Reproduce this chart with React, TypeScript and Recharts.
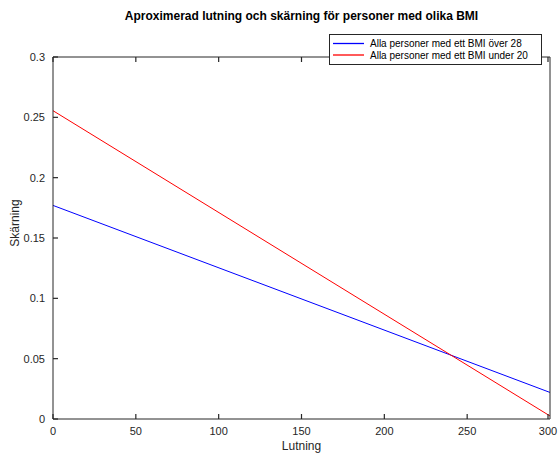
import React from "react";
import {
  LineChart,
  Line,
  XAxis,
  YAxis,
  Legend,
} from "recharts";

const lutning = [0, 300];
const bmiOver28 = [0.177, 0.022];
const bmiUnder20 = [0.2555, 0.0025];

const xTicks = [0, 50, 100, 150, 200, 250, 300];
const yTicks = [0, 0.05, 0.1, 0.15, 0.2, 0.25, 0.3];

const seriesNames = [
  "Alla personer med ett BMI över 28",
  "Alla personer med ett BMI under 20",
];
const seriesColors = ["#0000ff", "#ff0000"];

const data = lutning.map((x, i) => ({
  x,
  over28: bmiOver28[i],
  under20: bmiUnder20[i],
}));

const axisColor = "#262626";
const tickW = 1.2;
const font = "'Liberation Sans', Arial, Helvetica, sans-serif";

// tick marks drawn by hand so they point into the plot (MATLAB style)
function BottomTick(props: any) {
  const { x, y, payload } = props;
  return (
    <g>
      <path d={`M${x},${y}V${y - 5}`} stroke={axisColor} strokeWidth={tickW} fill="none" />
      <text x={x} y={y + 16} textAnchor="middle" fontSize={11} fill="#262626" fontFamily={font}>
        {payload.value}
      </text>
    </g>
  );
}

function TopTick(props: any) {
  const { x, y } = props;
  return <path d={`M${x},${y}V${y + 5}`} stroke={axisColor} strokeWidth={tickW} fill="none" />;
}

function LeftTick(props: any) {
  const { x, y, payload } = props;
  return (
    <g>
      <path d={`M${x},${y}H${x + 5}`} stroke={axisColor} strokeWidth={tickW} fill="none" />
      <text x={x - 8} y={y} dy="0.35em" textAnchor="end" fontSize={11} fill="#262626" fontFamily={font}>
        {payload.value}
      </text>
    </g>
  );
}

function RightTick(props: any) {
  const { x, y } = props;
  return <path d={`M${x},${y}H${x - 5}`} stroke={axisColor} strokeWidth={tickW} fill="none" />;
}

function LegendBox() {
  return (
    <svg width={213} height={31} style={{ display: "block" }}>
      <rect x={0.5} y={0.5} width={212} height={30} fill="#fff" stroke={axisColor} strokeWidth={1} />
      {seriesNames.map((name, i) => (
        <g key={name}>
          <path d={`M4,${9.5 + i * 11.5}H35`} stroke={seriesColors[i]} strokeWidth={1.3} fill="none" />
          <text x={41} y={9.5 + i * 11.5} dy="0.35em" fontSize={10} fill="#000" fontFamily={font}>
            {name}
          </text>
        </g>
      ))}
    </svg>
  );
}

const axisLine = { stroke: axisColor, strokeWidth: 1 };

export default function App() {
  return (
    <div style={{ position: "absolute", left: 0, top: 0, width: 560, height: 454, background: "#fff" }}>
      <LineChart
        width={560}
        height={454}
        data={data}
        margin={{ top: 25, right: 9, bottom: 0, left: 0 }}
      >
        <XAxis
          xAxisId="bottom"
          dataKey="x"
          type="number"
          domain={[0, 300]}
          ticks={xTicks}
          height={35}
          tickSize={0}
          tickMargin={0}
          tickLine={false}
          tick={<BottomTick />}
          axisLine={axisLine}
        />
        <XAxis
          xAxisId="top"
          orientation="top"
          dataKey="x"
          type="number"
          domain={[0, 300]}
          ticks={xTicks}
          height={1}
          tickSize={0}
          tickMargin={0}
          tickLine={false}
          tick={<TopTick />}
          axisLine={axisLine}
        />
        <YAxis
          yAxisId="left"
          type="number"
          domain={[0, 0.3]}
          ticks={yTicks}
          width={53}
          tickSize={0}
          tickMargin={0}
          tickLine={false}
          tick={<LeftTick />}
          axisLine={axisLine}
        />
        <YAxis
          yAxisId="right"
          orientation="right"
          type="number"
          domain={[0, 0.3]}
          ticks={yTicks}
          width={1}
          tickSize={0}
          tickMargin={0}
          tickLine={false}
          tick={<RightTick />}
          axisLine={axisLine}
        />
        <Legend
          verticalAlign="top"
          align="right"
          content={<LegendBox />}
          wrapperStyle={{ position: "absolute", left: 329, top: 34, width: 213, height: 31 }}
        />
        <Line
          xAxisId="bottom"
          yAxisId="left"
          dataKey="over28"
          name={seriesNames[0]}
          stroke={seriesColors[0]}
          strokeWidth={1}
          dot={false}
          isAnimationActive={false}
        />
        <Line
          xAxisId="bottom"
          yAxisId="left"
          dataKey="under20"
          name={seriesNames[1]}
          stroke={seriesColors[1]}
          strokeWidth={1}
          dot={false}
          isAnimationActive={false}
        />
      </LineChart>
      <div
        style={{
          position: "absolute",
          left: 53,
          width: 497,
          top: 9,
          textAlign: "center",
          fontFamily: font,
          fontWeight: "bold",
          fontSize: 12,
          lineHeight: "14px",
          color: "#000",
        }}
      >
        Aproximerad lutning och skärning för personer med olika BMI
      </div>
      <div
        style={{
          position: "absolute",
          left: 53,
          width: 497,
          top: 439,
          textAlign: "center",
          fontFamily: font,
          fontSize: 12,
          lineHeight: "14px",
          color: "#262626",
        }}
      >
        Lutning
      </div>
      <div
        style={{
          position: "absolute",
          left: 15,
          top: 223,
          transform: "translate(-50%, -50%) rotate(-90deg)",
          fontFamily: font,
          fontSize: 12,
          lineHeight: "14px",
          color: "#262626",
          whiteSpace: "nowrap",
        }}
      >
        Skärning
      </div>
    </div>
  );
}
